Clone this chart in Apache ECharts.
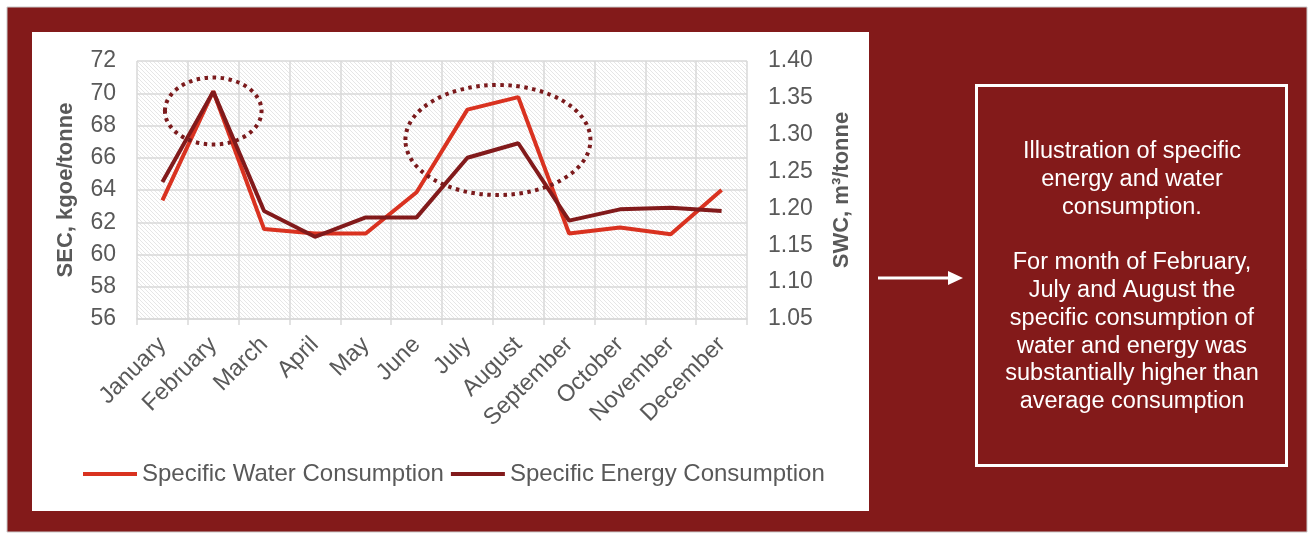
<!DOCTYPE html>
<html>
<head>
<meta charset="utf-8">
<script src="https://cdn.jsdelivr.net/npm/echarts@6/dist/echarts.min.js"></script>
<style>
  html, body { margin: 0; padding: 0; background: #ffffff; }
  #chart { width: 1309px; height: 537px; }
</style>
</head>
<body>
<div id="chart"></div>
<script>
// Monthly categories
const months = ['January', 'February', 'March', 'April', 'May', 'June',
  'July', 'August', 'September', 'October', 'November', 'December'];

// Specific water consumption, m3/tonne (right axis)
const waterSWC = [1.211, 1.359, 1.172, 1.166, 1.166, 1.222,
  1.334, 1.351, 1.166, 1.174, 1.165, 1.225];

// Specific energy consumption, kgoe/tonne (left axis)
const energySEC = [64.5, 70.1, 62.7, 61.1, 62.3, 62.3,
  66.0, 66.9, 62.1, 62.8, 62.9, 62.7];

// Axis ranges
const secAxis = { min: 56, max: 72, interval: 2 };
const swcAxis = { min: 1.05, max: 1.40, interval: 0.05 };

// Note text for the side panel
const noteLines = [
  'Illustration of specific',
  'energy and water',
  'consumption.',
  '',
  'For month of February,',
  'July and August the',
  'specific consumption of',
  'water and energy was',
  'substantially higher than',
  'average consumption'
];

const FONT = '"Liberation Sans", Arial, sans-serif';
const TXT = '#595959';
const GRIDC = '#d9d9d9';
const WATER = '#d93220';
const ENERGY = '#821a1b';
const FRAME = '#831a1a';

// light diagonal hatching for the plot area
function hatch() {
  const c = document.createElement('canvas');
  c.width = 4; c.height = 4;
  const g = c.getContext('2d');
  g.fillStyle = '#ffffff';
  g.fillRect(0, 0, 4, 4);
  g.strokeStyle = '#e6e6e6';
  g.lineWidth = 1;
  g.beginPath();
  g.moveTo(-1, -1); g.lineTo(5, 5);
  g.moveTo(-1, 3); g.lineTo(1, 5);
  g.moveTo(3, -1); g.lineTo(5, 1);
  g.stroke();
  return c;
}

const chart = echarts.init(document.getElementById('chart'), null, { renderer: 'canvas' });

const option = {
  animation: false,
  backgroundColor: '#ffffff',
  textStyle: { fontFamily: FONT },
  grid: {
    left: 137, top: 61, width: 610, height: 258,
    show: true,
    backgroundColor: { image: hatch(), repeat: 'repeat' },
    borderWidth: 0
  },
  legend: {
    data: ['Specific Water Consumption', 'Specific Energy Consumption'],
    left: 83, top: 462, padding: 0,
    itemWidth: 54, itemHeight: 4, itemGap: 7,
    icon: 'rect',
    textStyle: { color: TXT, fontSize: 24, fontFamily: FONT }
  },
  xAxis: {
    type: 'category',
    data: months,
    boundaryGap: true,
    axisLine: { show: true, lineStyle: { color: GRIDC, width: 1.5 } },
    axisTick: { show: true, length: 6, lineStyle: { color: GRIDC, width: 1.5 } },
    splitLine: { show: true, lineStyle: { color: GRIDC, width: 1.5 } },
    axisLabel: { rotate: 45, interval: 0, margin: 22, color: TXT, fontSize: 23.5, fontFamily: FONT }
  },
  yAxis: [
    {
      type: 'value',
      min: secAxis.min, max: secAxis.max, interval: secAxis.interval,
      name: 'SEC, kgoe/tonne',
      nameLocation: 'middle', nameRotate: 90, nameGap: 60,
      nameTextStyle: { color: TXT, fontSize: 22, fontWeight: 'bold', fontFamily: FONT },
      axisLine: { show: false }, axisTick: { show: false },
      splitLine: { show: true, lineStyle: { color: GRIDC, width: 1.5 } },
      axisLabel: { color: TXT, fontSize: 23, margin: 21, fontFamily: FONT }
    },
    {
      type: 'value',
      min: swcAxis.min, max: swcAxis.max, interval: swcAxis.interval,
      name: 'SWC, m³/tonne',
      nameLocation: 'middle', nameRotate: 90, nameGap: 84,
      nameTextStyle: { color: TXT, fontSize: 22, fontWeight: 'bold', fontFamily: FONT },
      axisLine: { show: false }, axisTick: { show: false },
      splitLine: { show: false },
      axisLabel: { color: TXT, fontSize: 23, margin: 21, fontFamily: FONT,
        formatter: v => v.toFixed(2) }
    }
  ],
  series: [
    {
      name: 'Specific Water Consumption',
      type: 'line', yAxisIndex: 1,
      data: waterSWC,
      symbol: 'none',
      lineStyle: { color: WATER, width: 4 },
      itemStyle: { color: WATER },
      z: 3
    },
    {
      name: 'Specific Energy Consumption',
      type: 'line', yAxisIndex: 0,
      data: energySEC,
      symbol: 'none',
      lineStyle: { color: ENERGY, width: 4 },
      itemStyle: { color: ENERGY },
      z: 4
    }
  ]
};

chart.setOption(option);

// Frame, side note, arrow and the dotted highlight ellipses
function px(cat, val) {
  return chart.convertToPixel({ xAxisIndex: 0, yAxisIndex: 0 }, [cat, val]);
}
const feb = px('February', 68.9);
const jul = px('July', 67.1);
const aug = px('August', 67.1);
const catW = aug[0] - jul[0];
const summerX = jul[0] + 0.6 * catW;

const dotted = { stroke: '#7b1a1c', lineWidth: 4, lineDash: [3.5, 4.5], fill: null };

chart.setOption({
  graphic: [
    { type: 'rect', z: -20, silent: true,
      shape: { x: 7, y: 7, width: 1300, height: 525 },
      style: { fill: FRAME, stroke: '#c9c9c9', lineWidth: 1 } },
    { type: 'rect', z: -19, silent: true,
      shape: { x: 32, y: 32, width: 837, height: 479 },
      style: { fill: '#ffffff' } },
    { type: 'ellipse', z: 10, silent: true,
      shape: { cx: feb[0], cy: feb[1], rx: catW * 0.95, ry: 33.5 },
      style: dotted },
    { type: 'ellipse', z: 10, silent: true,
      shape: { cx: summerX, cy: jul[1], rx: catW * 1.82, ry: 55 },
      style: dotted },
    { type: 'rect', z: 5, silent: true,
      shape: { x: 976.5, y: 85.5, width: 310, height: 380 },
      style: { fill: null, stroke: '#ffffff', lineWidth: 3 } },
    { type: 'line', z: 5, silent: true,
      shape: { x1: 878, y1: 278, x2: 950, y2: 278 },
      style: { stroke: '#ffffff', lineWidth: 3 } },
    { type: 'polygon', z: 5, silent: true,
      shape: { points: [[948, 271], [963, 278], [948, 285]] },
      style: { fill: '#ffffff' } },
    { type: 'text', z: 6, silent: true,
      x: 1132, y: 138,
      style: {
        text: noteLines.join('\n'),
        fill: '#ffffff',
        font: '23.5px ' + FONT,
        align: 'center', verticalAlign: 'top',
        lineHeight: 27.75
      } }
  ]
});
</script>
</body>
</html>
